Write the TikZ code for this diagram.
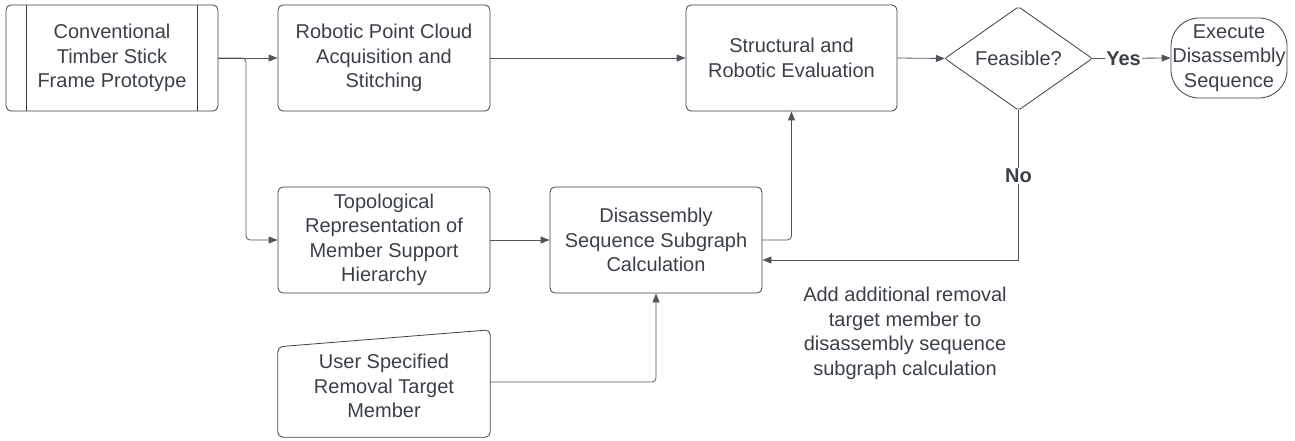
\documentclass[tikz,border=0pt]{standalone}
\usepackage{fontspec}
\setmainfont{Liberation Sans}
\usetikzlibrary{arrows.meta,calc}
\definecolor{ink}{RGB}{58,64,72}
\definecolor{wire}{RGB}{80,85,92}
\begin{document}
\begin{tikzpicture}[x=1pt,y=-1pt,
  every node/.style={font=\fontsize{20}{24.5}\selectfont, text=ink, align=center},
  procbox/.style={draw=ink, line width=0.8pt, rounded corners=5pt, minimum width=212pt, minimum height=106pt, inner sep=0pt},
  ghost/.style={draw=none, minimum width=212pt, minimum height=106pt, inner sep=0pt},
  conn/.style={draw=wire, line width=0.8pt, rounded corners=4pt, -{Triangle[length=9pt,width=7pt]}},
  plain/.style={draw=wire, line width=0.8pt, rounded corners=4pt},
  tag/.style={fill=white, inner sep=1pt, font=\fontsize{20}{24.5}\selectfont\bfseries}
]
\useasboundingbox (0,0) rectangle (1295,441);

% top row
\node[procbox] (frame) at (112,58) {Conventional\\Timber Stick\\Frame Prototype};
\draw[draw=ink, line width=0.8pt] ([xshift=21pt]frame.north west) -- ([xshift=21pt]frame.south west)
  ([xshift=-21pt]frame.north east) -- ([xshift=-21pt]frame.south east);
\node[procbox] (cloud) at (384,58) {Robotic Point Cloud\\Acquisition and\\Stitching};
\node[procbox, minimum width=211pt] (eval) at (791.5,58) {Structural and\\Robotic Evaluation};

% decision
\node[draw=none, minimum width=147pt, minimum height=103pt, inner sep=0pt] (feas) at (1018.5,58.5) {Feasible?};
\draw[draw=ink, line width=0.8pt, rounded corners=2pt] (feas.west) -- (feas.north) -- (feas.east) -- (feas.south) -- cycle;

% terminal
\node[draw=ink, line width=0.8pt, rounded corners=28pt, minimum width=116pt, minimum height=80pt, inner sep=0pt] (exec) at (1229,58) {Execute\\Disassembly\\Sequence};

% middle row
\node[procbox] (topo) at (384,240) {Topological\\Representation of\\Member Support\\Hierarchy};
\node[procbox] (dsub) at (656,240) {Disassembly\\Sequence Subgraph\\Calculation};

% manual input: slanted top edge, low on the left
\node[ghost, minimum height=102pt] (user) at (384,386) {User Specified\\Removal Target\\Member};
\draw[draw=ink, line width=0.8pt, rounded corners=5pt]
  ([yshift=-12pt]user.north west) -- ([yshift=5pt]user.north east) -- (user.south east) -- (user.south west) -- cycle;

% note
\node (note) at (905,333.5) {Add additional removal\\target member to\\disassembly sequence\\subgraph calculation};

% connectors
\coordinate (split) at (246,58);
\draw[conn] (frame.east) -- (cloud.west);
\draw[conn] (frame.east) -- (split) |- (topo.west);
\draw[conn] (cloud.east) -- (eval.west);
\draw[conn] (eval.east) -- (feas.west);
\draw[conn] (feas.east) -- node[tag, pos=0.4] (yes) {Yes} (exec.west);
\draw[conn] (topo.east) -- (dsub.west);
\draw[conn] (dsub.east) -| (eval.south);
\coordinate (loop) at (1018.5,260);
\draw[plain] (feas.south) -- node[tag, pos=0.44] (no) {No} (loop);
\draw[conn] (loop) -- (dsub.east |- loop);
\draw[conn] (user.east |- 0,382) -| (dsub.south);
\end{tikzpicture}
\end{document}
